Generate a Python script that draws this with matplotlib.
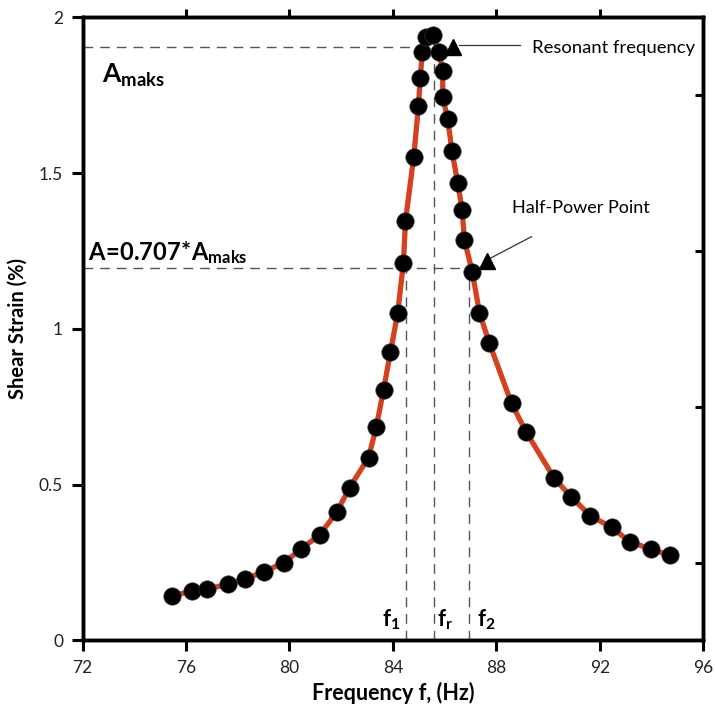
import matplotlib.pyplot as plt

plt.rcParams['font.family'] = ['Lato', 'DejaVu Sans']
plt.rcParams['mathtext.fontset'] = 'custom'
plt.rcParams['mathtext.rm'] = 'Lato'
plt.rcParams['mathtext.bf'] = 'Lato:bold'
plt.rcParams['mathtext.it'] = 'Lato:italic'

# measured points (frequency in Hz, shear strain in %)
freq = [75.47, 76.24, 76.83, 77.63, 78.27, 79.00, 79.79, 80.46, 81.18, 81.84,
        82.33, 83.06, 83.36, 83.64, 83.91, 84.19, 84.41, 84.49, 84.81, 84.99,
        85.06, 85.14, 85.29, 85.54, 85.78, 85.93, 85.93, 86.12, 86.29, 86.51,
        86.68, 86.77, 87.07, 87.35, 87.73, 88.59, 89.15, 90.24, 90.90, 91.64,
        92.46, 93.18, 94.00, 94.71]
strain = [0.143, 0.159, 0.165, 0.181, 0.197, 0.220, 0.250, 0.294, 0.340, 0.413,
          0.491, 0.587, 0.685, 0.804, 0.926, 1.052, 1.211, 1.347, 1.553, 1.714,
          1.805, 1.888, 1.936, 1.944, 1.888, 1.828, 1.744, 1.674, 1.571, 1.468,
          1.382, 1.285, 1.184, 1.052, 0.955, 0.761, 0.670, 0.521, 0.461, 0.400,
          0.363, 0.316, 0.293, 0.273]

a_max = 1.904
a_half = 1.197
f1, fr, f2 = 84.52, 85.58, 86.96

fig = plt.figure(figsize=(7.15, 7.13), dpi=100)
ax = fig.add_axes([0.1154, 0.1017, 0.868, 0.874])

dash = dict(color='#555555', lw=1.0, dashes=(7, 5))
# guide lines
ax.plot([72, 86.2], [a_max, a_max], **dash)
ax.plot([72, 87.05], [a_half, a_half], **dash)
ax.plot([f1, f1], [0, a_half], **dash)
ax.plot([fr, fr], [0, 1.88], **dash)
ax.plot([f2, f2], [0, a_half], **dash)

# curve + points
ax.plot(freq, strain, color='#d6401f', lw=3.8, zorder=3)
ax.plot(freq, strain, 'o', color='black', ms=12.5, mec='#333333', mew=0.5, zorder=4)

# annotations
ax.plot([86.57, 88.9], [1.91, 1.91], color='#333333', lw=0.9)
ax.plot(86.32, 1.906, '^', color='black', ms=11, zorder=5)
ax.text(89.37, 1.902, 'Resonant frequency', fontsize=13.3, va='center', ha='left')

ax.plot([87.73, 89.36], [1.225, 1.296], color='#333333', lw=0.9)
ax.plot(87.63, 1.218, '^', color='black', ms=11, zorder=5)
ax.text(88.61, 1.3875, 'Half-Power Point', fontsize=13.0, va='center', ha='left')

ax.text(72.75, 1.79, r'$\mathbf{A_{maks}}$', fontsize=19, va='baseline')
ax.text(72.22, 1.221, r'$\mathbf{A\!=\!0.707\!*\!A_{maks}}$', fontsize=17, va='baseline')
ax.text(83.6, 0.044, r'$\mathbf{f_1}$', fontsize=16, va='baseline')
ax.text(85.69, 0.044, r'$\mathbf{f_r}$', fontsize=16, va='baseline')
ax.text(87.27, 0.044, r'$\mathbf{f_2}$', fontsize=16, va='baseline')

ax.set_xlim(72, 96)
ax.set_ylim(0, 2)
ax.set_xticks([72, 76, 80, 84, 88, 92, 96])
ax.set_yticks([0, 0.5, 1, 1.5, 2])
ax.set_yticklabels(['0', '0.5', '1', '1.5', '2'])
ax.tick_params(direction='out', length=8, width=2.2, labelsize=12.5,
               labelcolor='#222222', pad=6)
for s in ax.spines.values():
    s.set_linewidth(2.4)

ax.set_xlabel('Frequency f, (Hz)', fontsize=15.5, fontweight='bold', labelpad=4)
ax.set_ylabel('Shear Strain (%)', fontsize=14.5, fontweight='bold', labelpad=8)

# extra ticks on top and right borders
axr = ax.twinx()
axr.set_ylim(0, 2)
axr.set_yticks([0.25, 0.75, 1.25, 1.75])
axr.tick_params(direction='in', length=6, width=2.2, labelright=False)
axt = ax.twiny()
axt.set_xlim(72, 96)
axt.set_xticks([76, 80, 84, 88, 92])
axt.tick_params(direction='out', length=6, width=2.2, labeltop=False)
for a in (axr, axt):
    for s in a.spines.values():
        s.set_linewidth(2.4)

fig.savefig('out.png', dpi=100)
